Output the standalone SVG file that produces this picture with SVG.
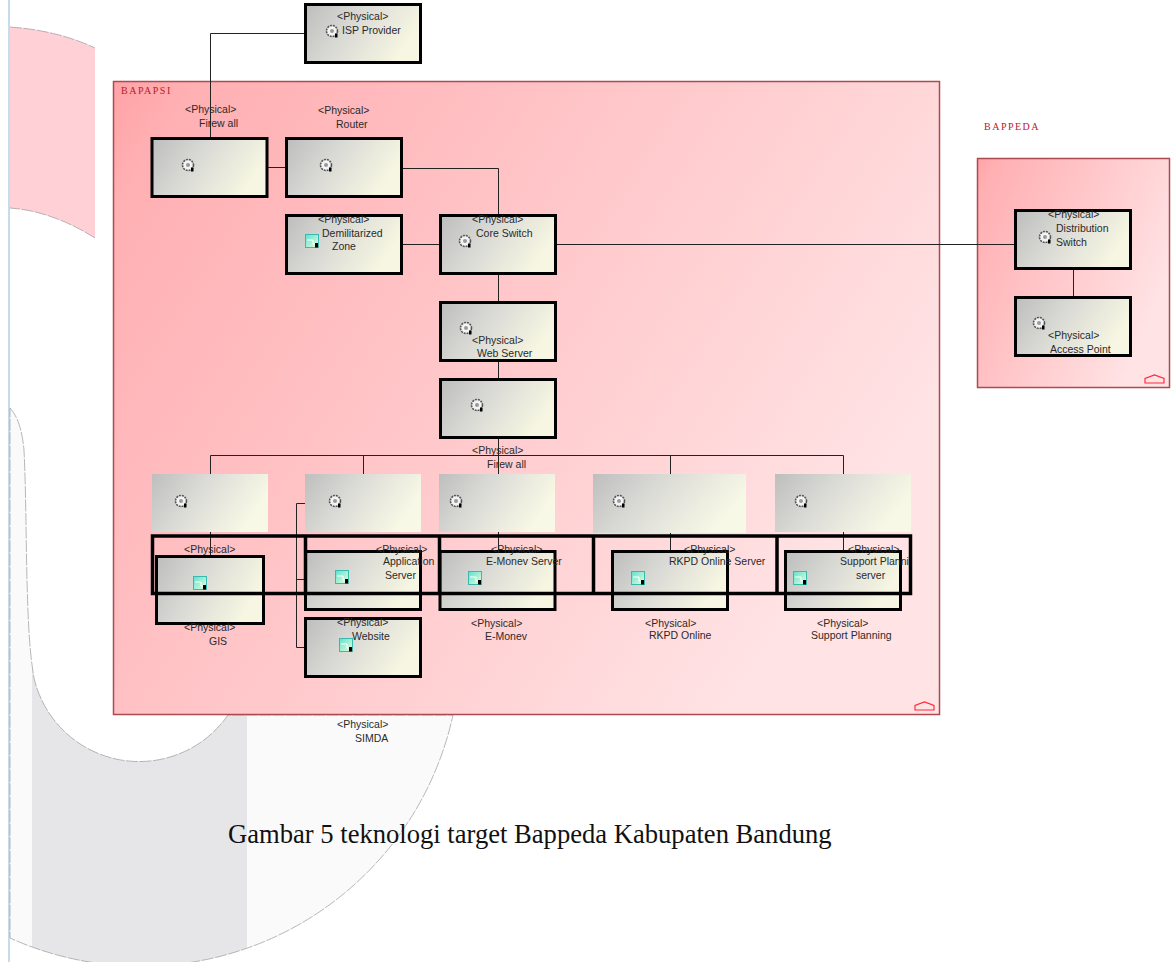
<svg xmlns="http://www.w3.org/2000/svg" width="1174" height="962" viewBox="0 0 1174 962">
<style>
.t{font-family:"Liberation Sans",Arial,sans-serif;font-size:10.5px;fill:#2a2a2a}
.c{font-family:"Liberation Serif","Times New Roman",serif;font-size:10px;letter-spacing:1.5px;fill:#b5202a}
.box{fill:url(#ng);stroke:#000;stroke-width:3}
.lite{fill:url(#nl)}
.cont{stroke:#ab4a50;stroke-width:1.5}
.w{fill:none;stroke:#222;stroke-width:1}
.fr{fill:none;stroke:#000;stroke-width:3.5}
.bgl{fill:none;stroke:#999;stroke-width:.7;stroke-dasharray:12 1.500}
</style>
<defs>
<linearGradient id="ng" x1="0" y1="0" x2="1" y2=".35"><stop offset="0" stop-color="#bdbdbd"/><stop offset=".5" stop-color="#dcdcd7"/><stop offset="1" stop-color="#f6f6e2"/></linearGradient>
<linearGradient id="nl" x1="0" y1="0" x2="1" y2=".35"><stop offset="0" stop-color="#bebebe"/><stop offset=".5" stop-color="#deded9"/><stop offset="1" stop-color="#f8f8e6"/></linearGradient>
<linearGradient id="cg" x1="0" y1="0" x2="1" y2=".5"><stop offset="0" stop-color="#ffa3a7"/><stop offset=".08" stop-color="#ffb0b3"/><stop offset=".33" stop-color="#ffbdc0"/><stop offset=".67" stop-color="#ffd0d2"/><stop offset="1" stop-color="#ffe3e5"/></linearGradient>
<linearGradient id="ag" x1="0" y1="0" x2="1" y2="1"><stop offset="0" stop-color="#5fe0d0"/><stop offset="1" stop-color="#e8ffd8"/></linearGradient>
<path id="cres" d="M10,408 C17,416 22,428 24,450 C26,490 26,540 27,580 C28,615 29,650 34,678 A108,108 0 0 0 228,715 L453,715 A319,319 0 0 1 10,938 Z"/>
<clipPath id="band"><rect x="32" y="400" width="215" height="562"/></clipPath>
<g id="gear"><circle r="5.500" fill="#f4f4f4" stroke="#555" stroke-width="1.600" stroke-dasharray="2 .9"/><circle r="2" fill="#999"/><rect x="3" y="2.500" width="2.500" height="4" fill="#000"/></g>
<g id="art"><rect x="-6.500" y="-6.500" width="13" height="13" fill="url(#ag)" stroke="#3bb8b0" stroke-width="1"/><path d="M-5,-1H1V3H5" fill="none" stroke="#fff" stroke-width="1"/><rect x="3" y="2" width="3" height="4.500" fill="#000"/></g>
<path id="house" d="M0,8 V3.500 L9.500,0 L19,3.500 V8 Z" fill="none" stroke="#ff2b3a" stroke-width="1.200"/>
</defs>

<g id="background">
<rect x="8" y="0" width="2" height="962" fill="#c6dbeb"/>
<path d="M10,27 C40,29 70,36 95,48 V238 C70,222 40,210 10,208 Z" fill="#ffd1d7"/>
<path class="bgl" d="M10,27 C40,29 70,36 95,48 M95,238 C70,222 40,210 10,208"/>
<use href="#cres" fill="#fafafa"/>
<use href="#cres" fill="#e6e6e8" clip-path="url(#band)"/>
<use href="#cres" class="bgl"/>
</g>

<g id="container-bapapsi"><rect class="cont" x="113.500" y="81.500" width="826" height="633" fill="url(#cg)"/><text class="c" x="121" y="94">BAPAPSI</text><use href="#house" x="915" y="702"/></g>
<g id="container-bappeda"><rect class="cont" x="977.500" y="158.500" width="192" height="229" fill="url(#cg)"/><text class="c" x="984" y="130">BAPPEDA</text><use href="#house" x="1145" y="375"/></g>

<g id="connectors">
<path class="w" d="M305,33.500H210.500V138"/>
<path class="w" d="M267,167.500H286"/>
<path class="w" d="M401,168.500H498.500V215"/>
<path class="w" d="M402,244.500H440"/>
<path class="w" d="M555,244.500H1015"/>
<path class="w" d="M1073.500,268V297"/>
<path class="w" d="M498.500,273V302"/>
<path class="w" d="M498.500,360V379"/>
<path class="w" d="M498.500,437V474M498.500,532V551"/>
<path class="w" d="M210.500,474V455.500H843.500V474"/>
<path class="w" d="M363.500,455.500V474M670.500,455.500V474"/>
<path class="w" d="M210.500,532V556M670.500,532V551M843.500,532V551"/>
<path class="w" d="M305,503.500H296.500V647.500H305M296.500,579.500H305"/>
</g>

<g id="node-isp"><rect class="box" x="305.500" y="4.500" width="115" height="58"/><use href="#gear" x="332" y="31"/><text class="t" x="337" y="20">&lt;Physical&gt;</text><text class="t" x="342" y="34">ISP Provider</text></g>
<g id="node-firewall-1"><rect class="box" x="152" y="138.500" width="115" height="58"/><use href="#gear" x="188" y="165"/><text class="t" x="185" y="113">&lt;Physical&gt;</text><text class="t" x="199" y="127">Firew all</text></g>
<g id="node-router"><rect class="box" x="286.500" y="138.500" width="115" height="58"/><use href="#gear" x="326" y="165"/><text class="t" x="318" y="114">&lt;Physical&gt;</text><text class="t" x="336" y="128">Router</text></g>
<g id="node-dmz"><rect class="box" x="286.500" y="215.500" width="115" height="58"/><use href="#art" x="312" y="241"/><text class="t" x="318" y="223">&lt;Physical&gt;</text><text class="t" x="322" y="237">Demilitarized</text><text class="t" x="332" y="250">Zone</text></g>
<g id="node-core"><rect class="box" x="440.500" y="215.500" width="115" height="58"/><use href="#gear" x="465" y="241"/><text class="t" x="472" y="223">&lt;Physical&gt;</text><text class="t" x="476" y="237">Core Switch</text></g>
<g id="node-web"><rect class="box" x="440.500" y="302.500" width="115" height="58"/><use href="#gear" x="466" y="328"/><text class="t" x="472" y="344">&lt;Physical&gt;</text><text class="t" x="477" y="357">Web Server</text></g>
<g id="node-firewall-2"><rect class="box" x="440.500" y="379.500" width="115" height="58"/><use href="#gear" x="477" y="405"/><text class="t" x="472" y="454">&lt;Physical&gt;</text><text class="t" x="487" y="468">Firew all</text></g>

<g id="node-gis-server"><rect class="lite" x="152" y="474" width="116" height="58"/><use href="#gear" x="181" y="501"/><text class="t" x="184" y="553">&lt;Physical&gt;</text><text class="t" x="191" y="565">GIS Server</text></g>
<g id="node-app-server"><rect class="lite" x="305" y="474" width="116" height="58"/><use href="#gear" x="335" y="501"/></g>
<g id="node-emonev-server"><rect class="lite" x="439" y="474" width="116" height="58"/><use href="#gear" x="456" y="501"/></g>
<g id="node-rkpd-server"><rect class="lite" x="593" y="474" width="153" height="59"/><use href="#gear" x="619" y="501"/></g>
<g id="node-support-server"><rect class="lite" x="775" y="474" width="136" height="58"/><use href="#gear" x="801" y="501"/></g>

<g id="node-gis"><rect class="box" x="156.500" y="556.500" width="107" height="67"/><use href="#art" x="200" y="583"/><text class="t" x="184" y="631">&lt;Physical&gt;</text><text class="t" x="209" y="645">GIS</text></g>
<g id="node-app"><rect class="box" x="305.500" y="551.500" width="115" height="58"/><use href="#art" x="342" y="577"/><text class="t" x="376" y="553">&lt;Physical&gt;</text><text class="t" x="383" y="565">Application</text><text class="t" x="385" y="579">Server</text></g>
<g id="node-emonev"><rect class="box" x="440" y="551.500" width="115" height="58"/><use href="#art" x="475" y="578"/><text class="t" x="491" y="553">&lt;Physical&gt;</text><text class="t" x="486" y="565">E-Monev Server</text><text class="t" x="471" y="627">&lt;Physical&gt;</text><text class="t" x="485" y="640">E-Monev</text></g>
<g id="node-rkpd"><rect class="box" x="612.500" y="551.500" width="115" height="58"/><use href="#art" x="638" y="578"/><text class="t" x="684" y="553">&lt;Physical&gt;</text><text class="t" x="669" y="565">RKPD Online Server</text><text class="t" x="645" y="627">&lt;Physical&gt;</text><text class="t" x="649" y="639">RKPD Online</text></g>
<g id="node-support"><rect class="box" x="785.500" y="551.500" width="115" height="58"/><use href="#art" x="800" y="578"/><text class="t" x="848" y="553">&lt;Physical&gt;</text><text class="t" x="840" y="565">Support Planni</text><text class="t" x="856" y="579">server</text><text class="t" x="817" y="627">&lt;Physical&gt;</text><text class="t" x="811" y="639">Support Planning</text></g>
<g id="node-website"><rect class="box" x="305.500" y="618.500" width="115" height="58"/><use href="#art" x="346" y="645"/><text class="t" x="337" y="626">&lt;Physical&gt;</text><text class="t" x="352" y="640">Website</text></g>
<g id="node-simda"><text class="t" x="337" y="728">&lt;Physical&gt;</text><text class="t" x="355" y="742">SIMDA</text></g>
<g id="node-distribution"><rect class="box" x="1015.500" y="210.500" width="115" height="58"/><use href="#gear" x="1045" y="237"/><text class="t" x="1048" y="218">&lt;Physical&gt;</text><text class="t" x="1056" y="232">Distribution</text><text class="t" x="1056" y="246">Switch</text></g>
<g id="node-access-point"><rect class="box" x="1015.500" y="297.500" width="115" height="58"/><use href="#gear" x="1039" y="323"/><text class="t" x="1048" y="339">&lt;Physical&gt;</text><text class="t" x="1050" y="353">Access Point</text></g>

<g id="frames">
<rect class="fr" x="152.500" y="536" width="758" height="57.500"/>
<path class="fr" d="M305.500,536V593.500M439.500,536V593.500M593.500,536V593.500M777,536V593.500"/>
</g>

<text id="caption" x="228" y="843" font-family="'Liberation Serif','Times New Roman',serif" font-size="26.600" fill="#111">Gambar 5 teknologi target Bappeda Kabupaten Bandung</text>
</svg>
